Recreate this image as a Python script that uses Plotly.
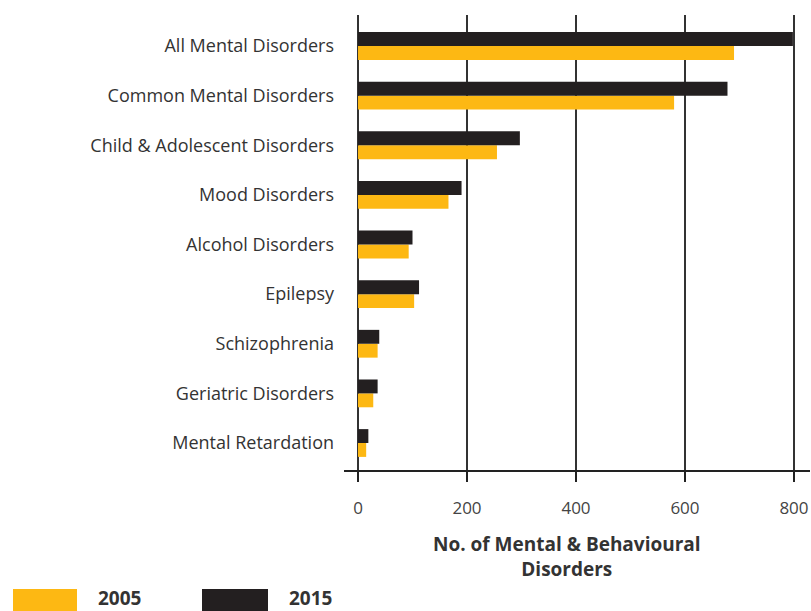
import plotly.graph_objects as go

categories = ["All Mental Disorders", "Common Mental Disorders", "Child & Adolescent Disorders",
              "Mood Disorders", "Alcohol Disorders", "Epilepsy", "Schizophrenia",
              "Geriatric Disorders", "Mental Retardation"]
values_2005 = [690, 580, 255, 166, 93, 103, 36, 28, 15]
values_2015 = [798, 678, 297, 190, 100, 112, 39, 36, 19]
x_ticks = [0, 200, 400, 600, 800]
series_names = ["2005", "2015"]
x_title = "No. of Mental & Behavioural<br>Disorders"

ORANGE = "#FDB813"
BLACK = "#231F20"

# bottom-to-top order so that the first trace (2005) sits below 2015 in each group
cats_rev = categories[::-1]
v05 = values_2005[::-1]
v15 = values_2015[::-1]

fig = go.Figure()
fig.add_trace(go.Bar(y=cats_rev, x=v05, orientation="h", name=series_names[0],
                     marker=dict(color=ORANGE, line=dict(width=0)), showlegend=False))
fig.add_trace(go.Bar(y=cats_rev, x=v15, orientation="h", name=series_names[1],
                     marker=dict(color=BLACK, line=dict(width=0)), showlegend=False))

fig.update_layout(
    width=811, height=611,
    margin=dict(l=344, r=1, t=15, b=141),
    paper_bgcolor="white", plot_bgcolor="white",
    barmode="group", bargap=0.44, bargroupgap=0,
    font=dict(family="Open Sans", color="#333333", size=16),
    xaxis=dict(range=[-25.7, 829.4], tickvals=x_ticks, showgrid=True, gridcolor="#333333",
               gridwidth=1.5, zeroline=False, showline=True, linecolor="#222222", linewidth=1.5,
               ticks="outside", ticklen=10, tickwidth=1.5, tickcolor="#222222",
               ticklabelstandoff=12,
               tickfont=dict(size=17, color="#444444")),
    yaxis=dict(type="category", categoryorder="array", categoryarray=cats_rev,
               range=[-0.544, 8.625], showgrid=False, zeroline=False, showline=False,
               ticks="", ticklabelstandoff=9, tickfont=dict(size=18, color="#333333")),
)

# x-axis title placed to match the reference position
fig.add_annotation(xref="paper", yref="paper", x=(567 - 344) / 466, y=(470 - 556) / 455,
                   text="<b>" + x_title + "</b>", showarrow=False, xanchor="center",
                   yanchor="middle", font=dict(size=19, color="#333333"))

# custom legend with large swatches
fig.add_shape(type="rect", xref="paper", yref="paper",
              x0=(13 - 344) / 466, x1=(77 - 344) / 466, y0=-141 / 455, y1=(470 - 589) / 455,
              fillcolor=ORANGE, line=dict(width=0))
fig.add_shape(type="rect", xref="paper", yref="paper",
              x0=(202 - 344) / 466, x1=(268 - 344) / 466, y0=-141 / 455, y1=(470 - 589) / 455,
              fillcolor=BLACK, line=dict(width=0))
fig.add_annotation(xref="paper", yref="paper", x=(96 - 344) / 466, y=(470 - 598) / 455,
                   text="<b>" + series_names[0] + "</b>", showarrow=False, xanchor="left",
                   yanchor="middle", font=dict(size=19, color="#333333"))
fig.add_annotation(xref="paper", yref="paper", x=(287 - 344) / 466, y=(470 - 598) / 455,
                   text="<b>" + series_names[1] + "</b>", showarrow=False, xanchor="left",
                   yanchor="middle", font=dict(size=19, color="#333333"))

fig.write_html("out.html")
